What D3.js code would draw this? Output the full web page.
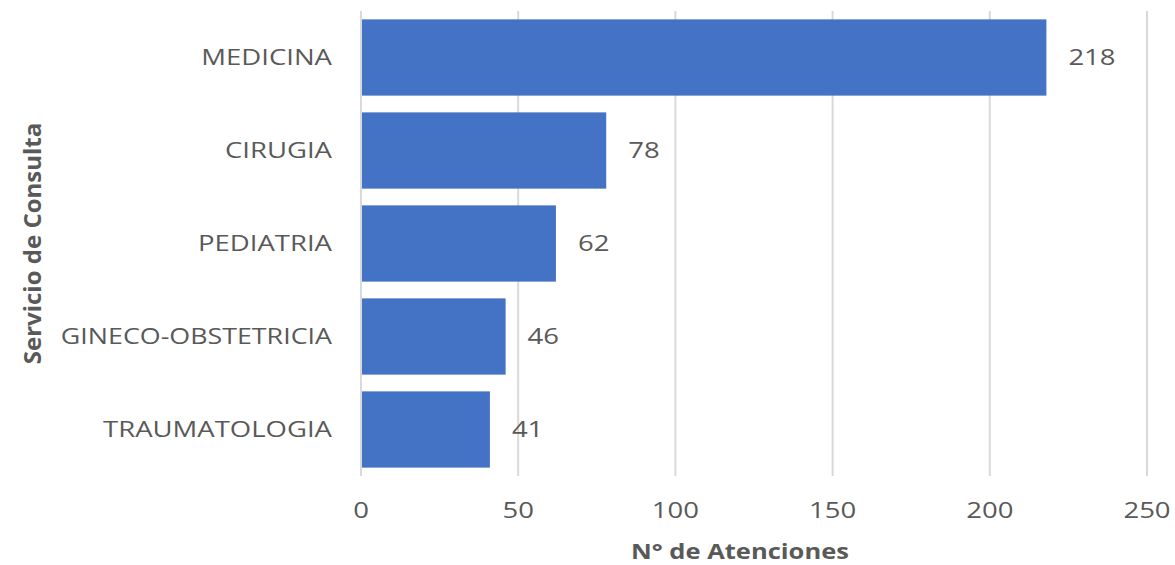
<!DOCTYPE html>
<html>
<head>
<meta charset="utf-8">
<script src="https://cdn.jsdelivr.net/npm/d3@7"></script>
<style>
  body { margin: 0; background: #fff; }
  text { font-family: "Open Sans", sans-serif; fill: #595959; }
</style>
</head>
<body>
<div id="chart"></div>
<script>
const categories = ["MEDICINA", "CIRUGIA", "PEDIATRIA", "GINECO-OBSTETRICIA", "TRAUMATOLOGIA"]
const values = [218, 78, 62, 46, 41]
const xTicks = [0, 50, 100, 150, 200, 250]

const width = 1175
const height = 565
const margin = {top: 11, right: 28, bottom: 89, left: 361}
// the reference text looks stretched sideways
const stretch = 1.25

const svg = d3.select("#chart")
    .append("svg")
    .attr("width", width)
    .attr("height", height)

const x = d3.scaleLinear()
    .domain([0, 250])
    .range([margin.left, width - margin.right])

const y = d3.scaleBand()
    .domain(categories)
    .range([margin.top, height - margin.bottom])
    .paddingInner(0.18)
    .paddingOuter(0.09)

// gridlines
svg.append("g")
    .selectAll("line")
    .data(xTicks)
    .join("line")
    .attr("x1", d => x(d))
    .attr("x2", d => x(d))
    .attr("y1", margin.top)
    .attr("y2", height - margin.bottom)
    .attr("stroke", "#d9d9d9")
    .attr("stroke-width", 2)

// bars
svg.append("g")
    .selectAll("rect")
    .data(values)
    .join("rect")
    .attr("x", x(0) + 1)
    .attr("y", (d, i) => y(categories[i]))
    .attr("width", d => x(d) - x(0) - 1)
    .attr("height", y.bandwidth())
    .attr("fill", "#4472c4")

// value labels
svg.append("g")
    .selectAll("g")
    .data(values)
    .join("g")
    .attr("transform", (d, i) => `translate(${x(d) + 22}, ${y(categories[i]) + y.bandwidth() / 2}) scale(${stretch}, 1)`)
    .append("text")
    .attr("dy", "0.35em")
    .style("font-size", "22px")
    .text(d => d)

// category labels
svg.append("g")
    .selectAll("g")
    .data(categories)
    .join("g")
    .attr("transform", d => `translate(${margin.left - 29}, ${y(d) + y.bandwidth() / 2}) scale(${d.length > 15 ? 1.22 : stretch}, 1)`)
    .append("text")
    .attr("dy", "0.35em")
    .attr("text-anchor", "end")
    .style("font-size", "22px")
    .text(d => d)

// x tick labels
svg.append("g")
    .selectAll("g")
    .data(xTicks)
    .join("g")
    .attr("transform", d => `translate(${x(d)}, 510) scale(${stretch}, 1)`)
    .append("text")
    .attr("dy", "0.35em")
    .attr("text-anchor", "middle")
    .style("font-size", "22px")
    .text(d => d)

// axis titles
svg.append("g")
    .attr("transform", "translate(740, 551) scale(1.16, 1)")
    .append("text")
    .attr("dy", "0.35em")
    .attr("text-anchor", "middle")
    .style("font-size", "22px")
    .style("font-weight", "bold")
    .text("N° de Atenciones")

svg.append("text")
    .attr("transform", `translate(33, ${(margin.top + height - margin.bottom) / 2}) rotate(-90)`)
    .attr("dy", "0.35em")
    .attr("text-anchor", "middle")
    .style("font-size", "24px")
    .style("font-weight", "bold")
    .text("Servicio de Consulta")
</script>
</body>
</html>
